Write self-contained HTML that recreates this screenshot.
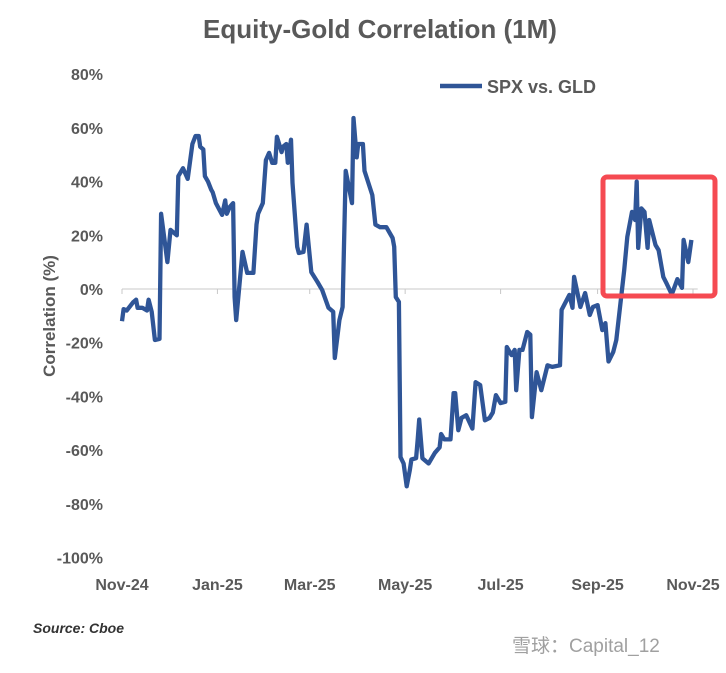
<!DOCTYPE html>
<html><head><meta charset="utf-8"><style>
body{margin:0;background:#fff;}
svg text{font-family:"Liberation Sans","Noto Sans CJK SC",sans-serif;}
</style></head><body>
<svg id="chart" width="726" height="668" xmlns="http://www.w3.org/2000/svg">
<rect width="726" height="668" fill="#fff"/>
<text x="380" y="38" text-anchor="middle" font-size="26" font-weight="bold" fill="#595959">Equity-Gold Correlation (1M)</text>
<text transform="translate(55,316) rotate(-90)" text-anchor="middle" font-size="17" font-weight="bold" fill="#595959">Correlation (%)</text>
<g id="yticks"></g><g id="xticks"></g>
<line x1="440" y1="86" x2="482" y2="86" stroke="#2f5597" stroke-width="4.5"/>
<text x="487" y="93" font-size="18" font-weight="bold" fill="#595959">SPX vs. GLD</text>
<path id="series" fill="none" stroke="#2f5597" stroke-width="4.3" stroke-linejoin="round"/>
<rect x="603" y="177" width="112" height="119" rx="4" fill="none" stroke="#f54a52" stroke-width="5"/>
<text x="33" y="633" font-size="14" font-style="italic" font-weight="bold" fill="#333">Source: Cboe</text>
<text x="512" y="652" font-size="19" fill="#a0a0a0">雪球：Capital_12</text>
</svg>
<script>
const yTicks=[80,60,40,20,0,-20,-40,-60,-80,-100];
const xLabels=["Nov-24","Jan-25","Mar-25","May-25","Jul-25","Sep-25","Nov-25"];
const xLabelDays=[0,61,120,181,242,304,365];
const days=[0,1,3,7,9,10,13,16,17,19,21,24,25,29,31,35,36,39,42,45,47,49,50,52,53,55,57,58,60,64,66,67,69,71,72,73,77,80,84,86,87,90,92,94,96,98,99,102,103,105,106,108,109,112,113,116,118,121,125,128,132,135,136,139,141,143,147,148,150,151,154,155,160,162,165,169,173,174,175,177,178,180,182,184,185,188,189,190,192,196,200,203,204,206,210,212,213,215,217,220,224,226,229,232,235,237,239,242,245,246,249,251,252,254,256,259,261,262,265,268,272,275,280,281,286,288,289,293,296,299,301,304,307,309,311,314,316,321,323,326,328,329,330,332,334,336,337,341,343,346,348,351,352,355,358,359,362,364,367];
const corr=[-12,-7.5,-8,-5,-4,-7,-7,-8,-4,-8.5,-19,-18.6,28,10,22,20,42,45,41,54,57,57,53,52,42,40,37,36,32,27.6,33,28,30.6,32,-3,-11.6,13.8,6,6,24,28,32,48,50.7,47,47,56.7,51,53,54,47,55.6,39.5,15.7,13.4,13.8,24,6.3,2.6,-0.4,-7,-8.5,-25.7,-11.6,-6.7,44,32,63.7,49,54,54,44,35,24,23,23,19,15.7,-3,-4.8,-62.6,-65,-73.5,-67.5,-63.5,-63,-56,-48.6,-63,-65,-61,-59,-54,-56,-56,-38.8,-38.8,-52.6,-48,-47,-52,-34.7,-35.8,-48.9,-48,-46,-39.5,-42.5,-42,-21.6,-24.6,-22.7,-37.7,-22.7,-22.7,-16,-17,-47.7,-31,-37.7,-28.4,-29,-28.4,-7.8,-2.2,-7,4.5,-6.7,-1.5,-9.7,-6.7,-6,-15.3,-12.7,-27,-23.5,-19,7,19.4,28.7,25.7,40,15.3,30,28.7,15.3,25.7,16.4,14.5,4.5,2.2,-1.5,-1.1,3.7,0.4,18.3,10,18.3];
const X=d=>122+d*(571/365);
const Y=v=>289-v*(53.7/20);
const NS="http://www.w3.org/2000/svg";
const yg=document.getElementById('yticks');
yTicks.forEach(t=>{const e=document.createElementNS(NS,'text');


e.setAttribute('x',103);e.setAttribute('y',Y(t)+6);e.setAttribute('text-anchor','end');
e.setAttribute('font-size','16');e.setAttribute('font-weight','bold');e.setAttribute('fill','#595959');
e.textContent=t+'%';yg.appendChild(e);});
const xg=document.getElementById('xticks');
const ax=document.createElementNS(NS,'line');


ax.setAttribute('x1',X(0));ax.setAttribute('x2',X(368));ax.setAttribute('y1',Y(0));ax.setAttribute('y2',Y(0));
ax.setAttribute('stroke','#c8c8c8');ax.setAttribute('stroke-width','1');xg.appendChild(ax);
xLabels.forEach((l,i)=>{const tk=document.createElementNS(NS,'line');


const x=X(xLabelDays[i]);tk.setAttribute('x1',x);tk.setAttribute('x2',x);tk.setAttribute('y1',Y(0));tk.setAttribute('y2',Y(0)+5);
tk.setAttribute('stroke','#c8c8c8');xg.appendChild(tk);
const e=document.createElementNS(NS,'text');


e.setAttribute('x',x);e.setAttribute('y',590);e.setAttribute('text-anchor','middle');
e.setAttribute('font-size','16');e.setAttribute('font-weight','bold');e.setAttribute('fill','#595959');
e.textContent=l;xg.appendChild(e);});
document.getElementById('series').setAttribute('d',days.map((d,i)=>(i?'L':'M')+X(d).toFixed(1)+','+Y(corr[i]).toFixed(1)).join(''));
</script>
</body></html>
